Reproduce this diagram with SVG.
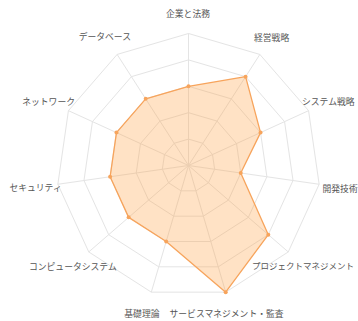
<svg xmlns="http://www.w3.org/2000/svg" width="358" height="321" viewBox="0 0 358 321">
<style>
.grid{fill:none;stroke:#e4e4e4;stroke-width:1}
.area{fill:rgba(255,159,64,0.3);stroke:#f7a45c;stroke-width:1.3;stroke-linejoin:round}
.pt{fill:#f7a45c}
.lbl{font-family:"Noto Sans CJK JP","Noto Sans",sans-serif;font-size:8.8px;fill:#555}
</style>
<rect width="358" height="321" fill="#ffffff"/>
<g id="grid">
<polygon class="grid" points="188.5,33.5 259.86,54.45 308.57,110.67 319.15,184.28 288.25,251.95 225.68,292.15 151.32,292.15 88.75,251.95 57.85,184.28 68.43,110.67 117.14,54.45"/>
<polygon class="grid" points="188.5,59.9 245.59,76.66 284.55,121.63 293.02,180.53 268.3,234.66 218.25,266.82 158.75,266.82 108.7,234.66 83.98,180.53 92.45,121.63 131.41,76.66"/>
<polygon class="grid" points="188.5,86.3 231.32,98.87 260.54,132.6 266.89,176.77 248.35,217.37 210.81,241.49 166.19,241.49 128.65,217.37 110.11,176.77 116.46,132.6 145.68,98.87"/>
<polygon class="grid" points="188.5,112.7 217.04,121.08 236.53,143.57 240.76,173.01 228.4,200.08 203.37,216.16 173.63,216.16 148.6,200.08 136.24,173.01 140.47,143.57 159.96,121.08"/>
<polygon class="grid" points="188.5,139.1 202.77,143.29 212.51,154.53 214.63,169.26 208.45,182.79 195.94,190.83 181.06,190.83 168.55,182.79 162.37,169.26 164.49,154.53 174.23,143.29"/>
</g>
<g id="connectors">
<path class="grid" d="M188.5,165.5L188.5,33.5M188.5,165.5L259.86,54.45M188.5,165.5L308.57,110.67M188.5,165.5L319.15,184.28M188.5,165.5L288.25,251.95M188.5,165.5L225.68,292.15M188.5,165.5L151.32,292.15M188.5,165.5L88.75,251.95M188.5,165.5L57.85,184.28M188.5,165.5L68.43,110.67M188.5,165.5L117.14,54.45"/>
</g>
<g id="data">
<polygon class="area" points="188.5,86.3 245.59,76.66 260.54,132.6 240.76,173.01 268.3,234.66 225.68,292.15 166.19,241.49 128.65,217.37 110.11,176.77 116.46,132.6 145.68,98.87"/>
<circle class="pt" cx="188.5" cy="86.3" r="2"/>
<circle class="pt" cx="245.59" cy="76.66" r="2"/>
<circle class="pt" cx="260.54" cy="132.6" r="2"/>
<circle class="pt" cx="240.76" cy="173.01" r="2"/>
<circle class="pt" cx="268.3" cy="234.66" r="2"/>
<circle class="pt" cx="225.68" cy="292.15" r="2"/>
<circle class="pt" cx="166.19" cy="241.49" r="2"/>
<circle class="pt" cx="128.65" cy="217.37" r="2"/>
<circle class="pt" cx="110.11" cy="176.77" r="2"/>
<circle class="pt" cx="116.46" cy="132.6" r="2"/>
<circle class="pt" cx="145.68" cy="98.87" r="2"/>
</g>
<g id="label-kigyou"><text class="lbl" x="188" y="16.5" text-anchor="middle">企業と法務</text></g>
<g id="label-keiei"><text class="lbl" x="254" y="40.7">経営戦略</text></g>
<g id="label-system-senryaku"><text class="lbl" x="302" y="105">システム戦略</text></g>
<g id="label-kaihatsu"><text class="lbl" x="322.5" y="191.7">開発技術</text></g>
<g id="label-pm"><text class="lbl" x="252" y="269.4" style="font-size:8.5px">プロジェクトマネジメント</text></g>
<g id="label-service"><text class="lbl" x="169.5" y="317">サービスマネジメント・監査</text></g>
<g id="label-kiso"><text class="lbl" x="159.5" y="317" text-anchor="end">基礎理論</text></g>
<g id="label-computer"><text class="lbl" x="116.7" y="270" text-anchor="end">コンピュータシステム</text></g>
<g id="label-security"><text class="lbl" x="61.7" y="191" text-anchor="end">セキュリティ</text></g>
<g id="label-network"><text class="lbl" x="75" y="105" text-anchor="end">ネットワーク</text></g>
<g id="label-database"><text class="lbl" x="131" y="40" text-anchor="end">データベース</text></g>
</svg>
